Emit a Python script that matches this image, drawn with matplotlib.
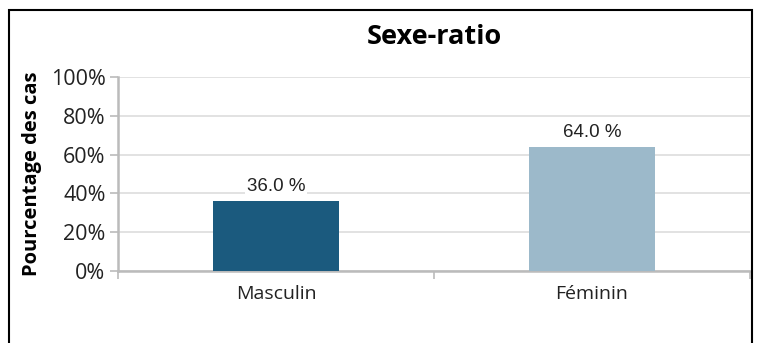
import matplotlib.pyplot as plt
from matplotlib.patches import Rectangle

categories = ["Masculin", "Féminin"]
values = [36.0, 64.0]
colors = ["#1b5a7e", "#9cb9ca"]
yticks = [0, 20, 40, 60, 80, 100]

W, H = 758, 343
fig = plt.figure(figsize=(W / 100, H / 100), dpi=100)
ax = fig.add_axes([118 / W, 1 - 271 / H, (750 - 118) / W, (271 - 77) / H])

ax.bar(range(len(categories)), values, width=0.4, color=colors, zorder=3)
for i, v in enumerate(values):
    ax.text(i, v + 3, f"{v:.1f} %", ha="center", va="bottom", fontsize=13.5,
            family="Liberation Sans", color="#222222", zorder=4,
            bbox=dict(facecolor="white", edgecolor="none", pad=1))

ax.set_xlim(-0.5, 1.5)
ax.set_ylim(0, 100)
ax.set_yticks(yticks)
ax.set_yticklabels([f"{t}%" for t in yticks], family="Open Sans", fontsize=15.5, color="#222222")
ax.set_xticks(range(len(categories)))
ax.set_xticklabels(categories, family="Open Sans", fontsize=14, color="#222222")
ax.tick_params(axis="x", length=0, pad=10)
ax.set_xticks([-0.5, 0.5, 1.5], minor=True)
ax.tick_params(axis="x", which="minor", length=6, color="#bbbbbb", width=1.2)
ax.tick_params(axis="y", length=6, color="#bbbbbb", width=1.2, pad=3)
ax.grid(axis="y", color="#dddddd", linewidth=1.2, zorder=0)

for side in ["top", "right"]:
    ax.spines[side].set_visible(False)
for side in ["left", "bottom"]:
    ax.spines[side].set_color("#bbbbbb")
    ax.spines[side].set_linewidth(1.8)

ax.set_ylabel("Pourcentage des cas", family="Open Sans", fontweight="bold", fontsize=14.5, labelpad=6)
fig.text(434 / W, 1 - 37 / H, "Sexe-ratio", ha="center", va="center",
         family="Open Sans", fontweight="bold", fontsize=19.5)

fig.patches.append(Rectangle((9 / W, -0.1), (752 - 9) / W, 1.1 - 10 / H,
                             transform=fig.transFigure, fill=False,
                             edgecolor="black", linewidth=1.5))

fig.savefig("out.png", dpi=100)
